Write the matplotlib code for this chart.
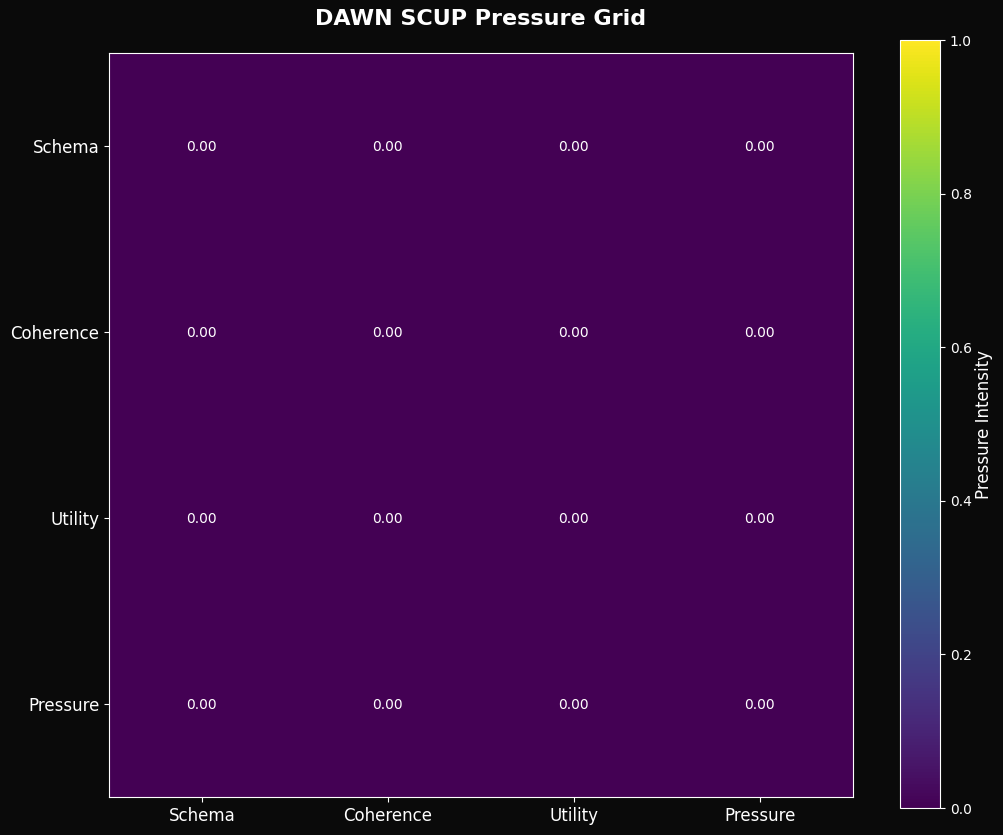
import numpy as np
import matplotlib
matplotlib.use("Agg")
import matplotlib.pyplot as plt

labels = ["Schema", "Coherence", "Utility", "Pressure"]
values = [
    [0.0, 0.0, 0.0, 0.0],
    [0.0, 0.0, 0.0, 0.0],
    [0.0, 0.0, 0.0, 0.0],
    [0.0, 0.0, 0.0, 0.0],
]
title = "DAWN SCUP Pressure Grid"
cbar_label = "Pressure Intensity"

W, H = 1003, 835
bg = "#0a0a0a"
fig = plt.figure(figsize=((W + 0.1) / 100, (H + 0.1) / 100), dpi=100, facecolor=bg)

def px(l, t, r, b):
    return [l / W, 1 - b / H, (r - l) / W, (b - t) / H]

ax = fig.add_axes(px(109, 53, 853, 797))
cax = fig.add_axes(px(900, 40, 940, 808))
ax.set_facecolor(bg)

data = np.array(values)
im = ax.imshow(data, cmap="viridis", vmin=0, vmax=1, aspect="auto")

ax.set_xticks(range(len(labels)))
ax.set_yticks(range(len(labels)))
ax.set_xticklabels(labels, fontsize=12, color="white")
ax.set_yticklabels(labels, fontsize=12, color="white")
ax.tick_params(colors="white")
for s in ax.spines.values():
    s.set_color("white")

for i in range(data.shape[0]):
    for j in range(data.shape[1]):
        ax.text(j - 0.004, i + 0.005, f"{data[i, j]:.2f}", ha="center", va="center",
                color="white", fontsize=10)

fig.text(481 / W, 1 - 19 / H, title, ha="center", va="center",
         fontsize=16, fontweight="bold", color="white")

cb = fig.colorbar(im, cax=cax)
cb.set_label(cbar_label, color="white", fontsize=12, labelpad=2)
cb.ax.tick_params(colors="white", labelsize=10)
cb.outline.set_edgecolor("white")

fig.savefig("out.png", dpi=100, facecolor=bg)
